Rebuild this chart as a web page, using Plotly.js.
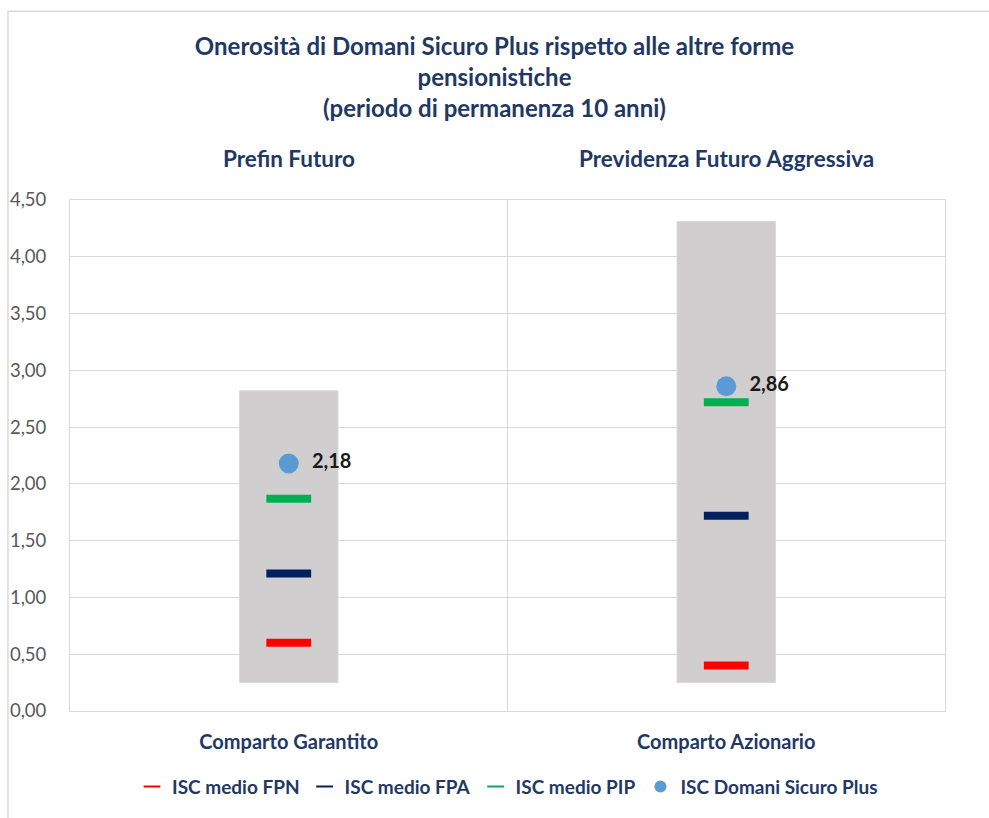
<!DOCTYPE html>
<html>
<head>
<meta charset="utf-8">
<script src="https://cdn.plot.ly/plotly-3.0.1.min.js"></script>
<style>html,body{margin:0;padding:0;background:#fff;}#chart{width:989px;height:818px;}</style>
</head>
<body>
<div id="chart"></div>
<script>
// ---- data ----
const categories = ['Comparto Garantito', 'Comparto Azionario'];
const fondi = ['Prefin Futuro', 'Previdenza Futuro Aggressiva'];
const rangeMin = [0.25, 0.25];
const rangeMax = [2.82, 4.31];
const iscFPN = [0.60, 0.40];
const iscFPA = [1.21, 1.72];
const iscPIP = [1.87, 2.72];
const iscDSP = [2.18, 2.86];
const yTicks = [0, 0.5, 1, 1.5, 2, 2.5, 3, 3.5, 4, 4.5];

const FONT = 'Lato, "Open Sans", sans-serif';
const NAVY = '#1f3864';

const rangeTrace = {
  type: 'bar', x: categories,
  base: rangeMin,
  y: rangeMax.map((v, i) => v - rangeMin[i]),
  width: 0.225,
  marker: {color: '#d0cece', line: {color: '#d9d9d9', width: 1}},
  showlegend: false, hoverinfo: 'skip'
};
function dash(name, vals, color) {
  return {
    type: 'scatter', mode: 'markers', name: name, x: categories, y: vals,
    marker: {symbol: 'line-ew', size: 32, color: color, line: {color: color, width: 8}},
    hoverinfo: 'skip'
  };
}
const dspTrace = {
  type: 'scatter', mode: 'markers+text', name: 'ISC Domani Sicuro Plus',
  x: categories, y: iscDSP,
  marker: {symbol: 'circle', size: 20, color: '#5b9bd5'},
  texttemplate: '  %{y:.2f}', textposition: 'middle right',
  textfont: {family: FONT, size: 20, color: '#1a1a1a', weight: 'bold'},
  hoverinfo: 'skip'
};

const data = [
  rangeTrace,
  dash('ISC medio FPN', iscFPN, '#ff0000'),
  dash('ISC medio FPA', iscFPA, '#002060'),
  dash('ISC medio PIP', iscPIP, '#00b050'),
  dspTrace
];

const layout = {
  width: 989, height: 818,
  margin: {l: 70, r: 44, t: 200, b: 104},
  paper_bgcolor: '#ffffff', plot_bgcolor: '#ffffff',
  separators: ',.',
  font: {family: FONT},
  title: {
    text: '<b>Onerosità di Domani Sicuro Plus rispetto alle altre forme<br>pensionistiche<br>(periodo di permanenza 10 anni)</b>',
    font: {family: FONT, size: 24, color: NAVY},
    x: 0.5, xanchor: 'center', y: 0.933, yanchor: 'middle'
  },
  xaxis: {
    type: 'category', range: [-0.5, 1.5],
    showgrid: false, showline: true, mirror: true, linecolor: '#d9d9d9', linewidth: 1,
    ticks: '', ticklabelstandoff: 13,
    tickfont: {family: FONT, size: 20, color: NAVY, weight: 'bold'},
    fixedrange: true
  },
  yaxis: {
    range: [0, 4.5], tickvals: yTicks, tickformat: '.2f',
    showgrid: true, gridcolor: '#d9d9d9', gridwidth: 1,
    showline: true, mirror: true, linecolor: '#d9d9d9', zeroline: false,
    ticks: '', ticklabelstandoff: 19,
    tickfont: {family: FONT, size: 18.5, color: '#595959'},
    fixedrange: true
  },
  bargap: 0,
  showlegend: true,
  legend: {
    orientation: 'h', x: 0.5, xanchor: 'center', y: -0.148, yanchor: 'middle',
    itemsizing: 'constant', traceorder: 'normal',
    font: {family: FONT, size: 19, color: NAVY, weight: 'bold'},
    itemwidth: 30
  },
  annotations: fondi.map((f, i) => ({
    text: '<b>' + f + '</b>', x: categories[i], xref: 'x', y: 1.082, yref: 'paper',
    yanchor: 'middle', xanchor: 'center', showarrow: false,
    font: {family: FONT, size: 22.5, color: NAVY}
  })),
  shapes: [
    {type: 'line', xref: 'x', yref: 'paper', x0: 0.5, x1: 0.5, y0: 0, y1: 1,
     line: {color: '#d9d9d9', width: 1}},
    {type: 'line', xref: 'paper', yref: 'paper', x0: -0.0709, x1: -0.0709, y0: -0.21, y1: 1.3696,
     line: {color: '#d9d9d9', width: 1.5}},
    {type: 'line', xref: 'paper', yref: 'paper', x0: -0.0709, x1: 1.06, y0: 1.3696, y1: 1.3696,
     line: {color: '#d9d9d9', width: 1.5}}
  ]
};

Plotly.newPlot('chart', data, layout, {staticPlot: true, displayModeBar: false});
</script>
</body>
</html>
